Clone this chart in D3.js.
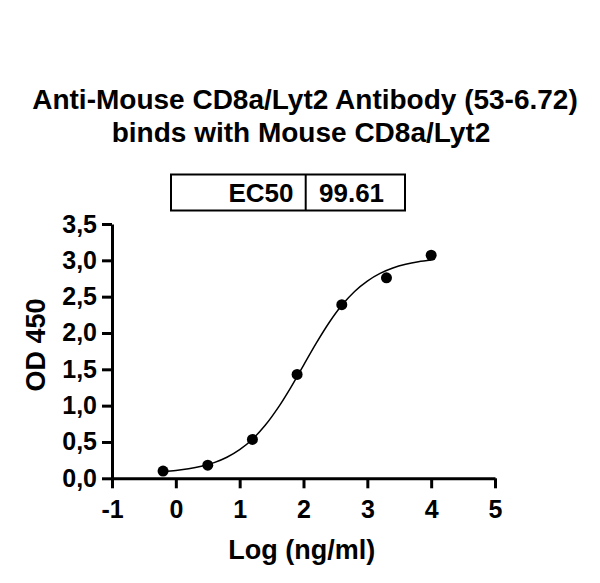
<!DOCTYPE html>
<html>
<head>
<meta charset="utf-8">
<script src="https://cdn.jsdelivr.net/npm/d3@7"></script>
<style>
  html, body { margin: 0; padding: 0; background: #fff; }
  svg text { font-family: "Liberation Sans", Arial, sans-serif; font-weight: bold; fill: #000; }
</style>
</head>
<body>
<div id="chart"></div>
<script>
// measured points
var logConc = [-0.2, 0.5, 1.2, 1.9, 2.6, 3.3, 4.0];
var od450 = [0.10, 0.18, 0.535, 1.43, 2.39, 2.76, 3.07];

// fitted curve
var fitX = [-0.2, 0.0, 0.2, 0.4, 0.6, 0.8, 1.0, 1.2, 1.4, 1.6, 1.8, 2.0,
            2.2, 2.4, 2.6, 2.8, 3.0, 3.2, 3.4, 3.6, 3.8, 4.0];
var fitY = [0.091, 0.107, 0.130, 0.165, 0.216, 0.290, 0.394, 0.538, 0.729, 0.969, 1.249, 1.555,
            1.860, 2.141, 2.381, 2.572, 2.715, 2.820, 2.894, 2.945, 2.980, 3.003];

var xTicks = [-1, 0, 1, 2, 3, 4, 5];
var yTicks = [0, 0.5, 1.0, 1.5, 2.0, 2.5, 3.0, 3.5];
var titleLines = ['Anti-Mouse CD8a/Lyt2 Antibody (53-6.72)', 'binds with Mouse CD8a/Lyt2'];
var ec50Label = 'EC50';
var ec50Value = '99.61';

var width = 600, height = 583;

var svg = d3.select('#chart').append('svg')
    .attr('width', width)
    .attr('height', height);

var xScale = d3.scaleLinear().domain([-1, 5]).range([112, 495]);
var yScale = d3.scaleLinear().domain([0, 3.5]).range([478.3, 224]);

// comma decimals and a plain hyphen for negatives, like the original
var comma = d3.formatLocale({decimal: ',', thousands: '.', grouping: [3], currency: ['', ''], minus: '-'});
var plain = d3.formatLocale({decimal: '.', thousands: ',', grouping: [3], currency: ['', ''], minus: '-'});

// title
svg.selectAll('.title')
    .data(titleLines).enter().append('text')
    .attr('class', 'title')
    .attr('x', function(d, i) { return i === 0 ? 305 : 301; })
    .attr('y', function(d, i) { return i === 0 ? 109.3 : 141.7; })
    .attr('text-anchor', 'middle')
    .style('font-size', '28px')
    .text(function(d) { return d; });

// EC50 table
var box = svg.append('g');
box.append('rect')
    .attr('x', 171).attr('y', 174.5)
    .attr('width', 234).attr('height', 36)
    .attr('fill', 'none').attr('stroke', '#000').attr('stroke-width', 2);
box.append('line')
    .attr('x1', 305.7).attr('x2', 305.7)
    .attr('y1', 174.5).attr('y2', 210.5)
    .attr('stroke', '#000').attr('stroke-width', 2);
box.append('text')
    .attr('x', 293.5).attr('y', 201.5)
    .attr('text-anchor', 'end')
    .style('font-size', '26px')
    .text(ec50Label);
box.append('text')
    .attr('x', 319).attr('y', 201.5)
    .style('font-size', '26px')
    .text(ec50Value);

// axes
var xAxis = svg.append('g')
    .attr('transform', 'translate(0,' + yScale(0) + ')')
    .call(d3.axisBottom(xScale).tickValues(xTicks).tickSize(10).tickSizeOuter(0).tickPadding(12)
        .tickFormat(plain.format('d')));

var yAxis = svg.append('g')
    .attr('transform', 'translate(' + xScale(-1) + ',0)')
    .call(d3.axisLeft(yScale).tickValues(yTicks).tickSize(10).tickSizeOuter(0).tickPadding(5)
        .tickFormat(comma.format('.1f')));

svg.selectAll('.domain, .tick line')
    .attr('stroke', '#000')
    .attr('stroke-width', 3);
svg.selectAll('.tick text')
    .style('font-size', '25px')
    .style('font-family', '"Liberation Sans", Arial, sans-serif')
    .style('font-weight', 'bold');

// axis titles
svg.append('text')
    .attr('x', 301.7).attr('y', 559.3)
    .attr('text-anchor', 'middle')
    .style('font-size', '27px')
    .text('Log (ng/ml)');

svg.append('text')
    .attr('transform', 'translate(45,345) rotate(-90)')
    .attr('text-anchor', 'middle')
    .style('font-size', '27px')
    .text('OD 450');

// fit curve
var line = d3.line()
    .x(function(d) { return xScale(d[0]); })
    .y(function(d) { return yScale(d[1]); })
    .curve(d3.curveMonotoneX);

svg.append('path')
    .datum(d3.zip(fitX, fitY))
    .attr('d', line)
    .attr('fill', 'none')
    .attr('stroke', '#000')
    .attr('stroke-width', 1.5);

// points
svg.selectAll('.dot')
    .data(d3.zip(logConc, od450)).enter().append('circle')
    .attr('class', 'dot')
    .attr('cx', function(d) { return xScale(d[0]); })
    .attr('cy', function(d) { return yScale(d[1]); })
    .attr('r', 5.5)
    .attr('fill', '#000');
</script>
</body>
</html>
